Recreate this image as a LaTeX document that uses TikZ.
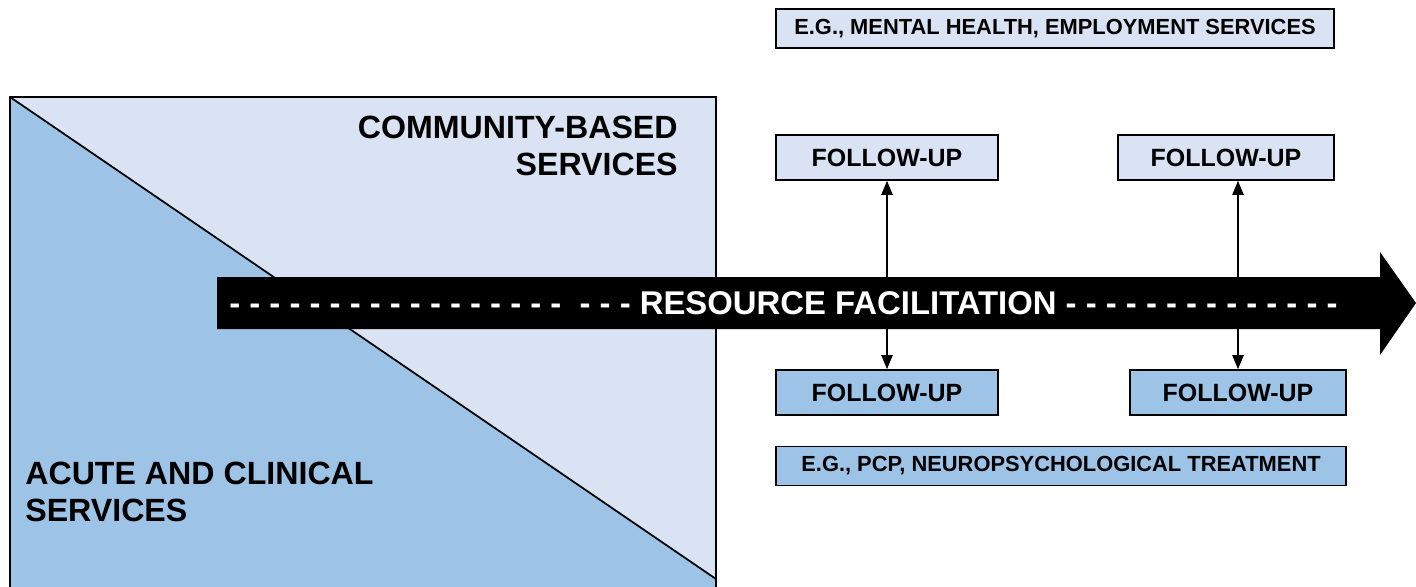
\documentclass[tikz,border=0pt]{standalone}
\usepackage{fontspec}
\setmainfont{Liberation Sans}
\usetikzlibrary{arrows.meta}
\definecolor{paleblue}{RGB}{218,227,243}
\definecolor{midblue}{RGB}{157,195,230}

\begin{document}
\begin{tikzpicture}[x=0.02cm,y=-0.02cm,
  fubox/.style={draw,line width=1pt,inner sep=0pt,minimum height=0.9cm,
    font=\bfseries\fontsize{14.2}{16}\selectfont},
  egbox/.style={fubox,minimum height=0.78cm,font=\bfseries\fontsize{12.45}{14}\selectfont},
  bigtext/.style={inner sep=0pt,font=\bfseries\fontsize{18.3}{20.6}\selectfont},
  link/.style={line width=0.6pt,{Triangle[width=6.5pt,length=8pt]}-{Triangle[width=6.5pt,length=8pt]}}]
  \useasboundingbox (0,0) rectangle (1416,586);
  \clip (0,0) rectangle (1416,586);

  % two service areas split by the diagonal
  \fill[paleblue] (10,97) rectangle (716,600);
  \fill[midblue] (10,97) -- (716,579) -- (716,600) -- (10,600) -- cycle;
  \draw[line width=1.1pt] (10,600) -- (10,97) -- (716,97) -- (716,600);
  \draw[line width=1pt] (10,97) -- (716,579);
  \node[bigtext,anchor=north east,align=right] (community) at (678,116) {COMMUNITY-BASED\\SERVICES};
  \node[bigtext,anchor=north west,align=left] (acute) at (25,462) {ACUTE AND CLINICAL\\SERVICES};

  % follow-up boxes
  \node[egbox,fill=paleblue,minimum width=11.16cm] (egtop) at (1055,28.5) {E.G., MENTAL HEALTH, EMPLOYMENT SERVICES};
  \node[fubox,fill=paleblue,minimum width=4.44cm] (futl) at (887,157.5) {FOLLOW-UP};
  \node[fubox,fill=paleblue,minimum width=4.32cm] (futr) at (1226,157.5) {FOLLOW-UP};
  \node[fubox,fill=midblue,minimum width=4.44cm] (fubl) at (887,392.5) {FOLLOW-UP};
  \node[fubox,fill=midblue,minimum width=4.32cm] (fubr) at (1238,392.5) {FOLLOW-UP};
  \node[egbox,fill=midblue,minimum width=11.4cm] (egbot) at (1061,466) {E.G., PCP, NEUROPSYCHOLOGICAL TREATMENT};
  \draw[link] (futl.south) -- (fubl.north);
  \draw[link] (fubr.north |- futr.south) -- (fubr.north);

  % resource facilitation arrow
  \fill (217,277) -- (1380,277) -- (1380,252) -- (1416,303) -- (1380,355) -- (1380,329) -- (217,329) -- cycle;
  \node[bigtext,anchor=west,text=white,font=\bfseries\fontsize{18.7}{20}\selectfont] (facil) at (229,303)
    {- - - - - - - - - - - - - - - - -\ \ - - - RESOURCE FACILITATION - - - - - - - - - - - - - -};
\end{tikzpicture}
\end{document}
